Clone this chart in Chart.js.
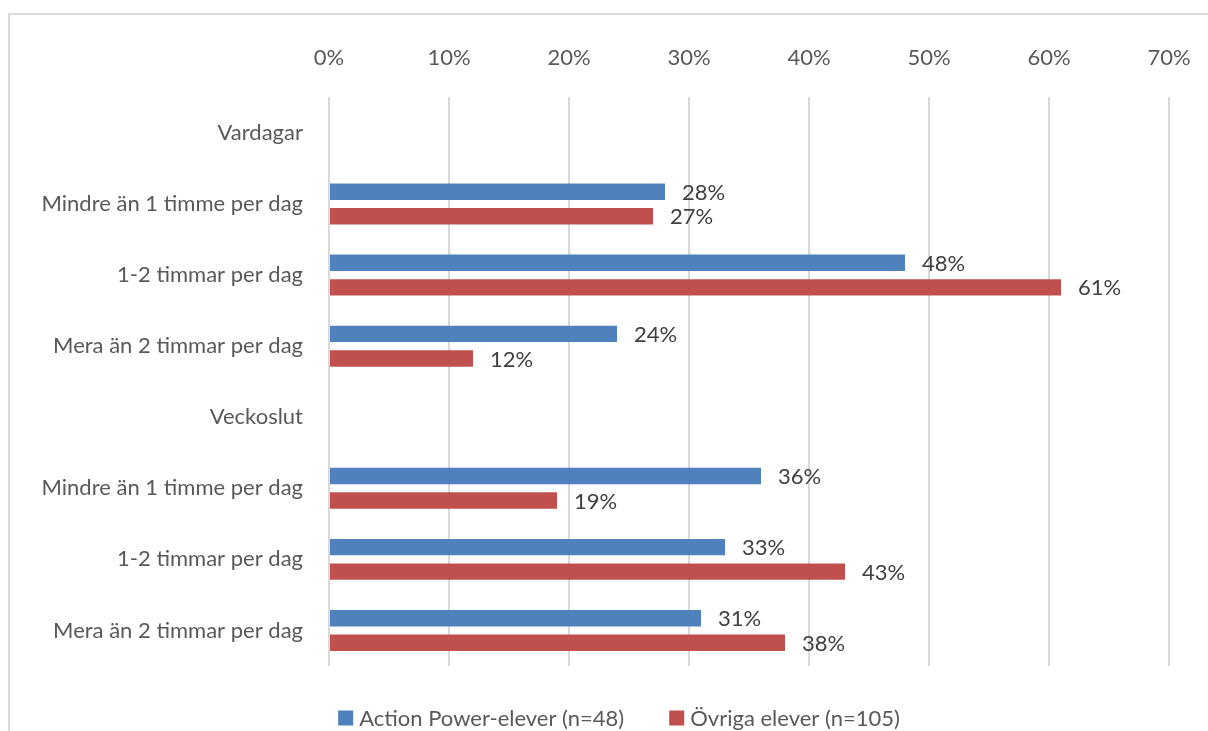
<!DOCTYPE html>
<html lang="sv">
<head>
<meta charset="UTF-8">
<title>Tid per dag</title>
<script src="https://cdn.jsdelivr.net/npm/chart.js"></script>
<style>
  body { margin: 0; background: #fff; overflow: hidden; }
  .wrap { position: relative; width: 1208px; height: 731px; }
  .frame {
    position: absolute; left: 8px; top: 13px; width: 1300px; height: 800px;
    border: 2px solid #d9d9d9; box-sizing: border-box;
  }
  canvas { position: absolute; left: 0; top: 0; }
</style>
</head>
<body>
<div class="wrap">
  <div class="frame"></div>
  <canvas id="chart" width="1208" height="731"></canvas>
</div>
<script>
// rows of the chart, "Vardagar" and "Veckoslut" are group headings without bars
const categories = [
  'Vardagar',
  'Mindre än 1 timme per dag',
  '1-2 timmar per dag',
  'Mera än 2 timmar per dag',
  'Veckoslut',
  'Mindre än 1 timme per dag',
  '1-2 timmar per dag',
  'Mera än 2 timmar per dag'
];
const actionPower = [null, 28, 48, 24, null, 36, 33, 31];
const ovriga = [null, 27, 61, 12, null, 19, 43, 38];
const seriesNames = ['Action Power-elever (n=48)', 'Övriga elever (n=105)'];
const seriesColors = ['#4f81bd', '#c0504d'];

const FONT = 'Lato, "Open Sans", sans-serif';
const FONT_SIZE = 22;
const PLOT_LEFT = 329;
const LEGEND_CENTER = 619;

// value labels to the right of each bar
const barLabels = {
  id: 'barLabels',
  afterDatasetsDraw(chart) {
    const ctx = chart.ctx;
    ctx.save();
    ctx.font = FONT_SIZE + 'px ' + FONT;
    ctx.fillStyle = '#404040';
    ctx.textAlign = 'left';
    ctx.textBaseline = 'middle';
    chart.data.datasets.forEach((ds, i) => {
      chart.getDatasetMeta(i).data.forEach((bar, j) => {
        const v = ds.data[j];
        if (v == null) return;
        ctx.fillText(v + '%', bar.x + 17, bar.y + 1);
      });
    });
    ctx.restore();
  }
};

// legend row under the plot
const bottomLegend = {
  id: 'bottomLegend',
  afterDraw(chart) {
    const ctx = chart.ctx;
    ctx.save();
    ctx.font = FONT_SIZE + 'px ' + FONT;
    ctx.textBaseline = 'middle';
    const box = 15, gap = 6, spacing = 45;
    const widths = seriesNames.map(n => ctx.measureText(n).width);
    const total = widths.reduce((a, w) => a + box + gap + w, 0) + spacing;
    let x = LEGEND_CENTER - total / 2;
    const y = 718;
    chart.data.datasets.forEach((ds, i) => {
      ctx.fillStyle = ds.backgroundColor;
      ctx.fillRect(x, y - box / 2, box, box);
      x += box + gap;
      ctx.fillStyle = '#595959';
      ctx.fillText(ds.label, x, y + 1);
      x += widths[i] + spacing;
    });
    ctx.restore();
  }
};

new Chart(document.getElementById('chart'), {
  type: 'bar',
  data: {
    labels: categories,
    datasets: [
      { label: seriesNames[0], data: actionPower, backgroundColor: seriesColors[0] },
      { label: seriesNames[1], data: ovriga, backgroundColor: seriesColors[1] }
    ]
  },
  options: {
    indexAxis: 'y',
    responsive: false,
    animation: false,
    barPercentage: 0.67,
    categoryPercentage: 0.69,
    layout: { padding: { top: 19, right: 39, bottom: 65, left: 0 } },
    plugins: {
      legend: { display: false },
      tooltip: { enabled: false }
    },
    scales: {
      x: {
        position: 'top',
        min: 0,
        max: 70,
        // the end labels may overhang the plot, the outer padding covers them
        afterFit: s => { s.paddingLeft = 0; s.paddingRight = 0; },
        ticks: {
          stepSize: 10,
          padding: 26,
          color: '#595959',
          font: { family: FONT, size: FONT_SIZE },
          callback: v => v + '%'
        },
        grid: { color: '#d9d9d9', lineWidth: 2, drawTicks: false },
        border: { display: false }
      },
      y: {
        afterFit: s => { s.width = PLOT_LEFT; },
        ticks: {
          padding: 18,
          color: '#595959',
          font: { family: FONT, size: FONT_SIZE }
        },
        grid: { display: false },
        border: { display: false }
      }
    }
  },
  plugins: [barLabels, bottomLegend]
});
</script>
</body>
</html>
